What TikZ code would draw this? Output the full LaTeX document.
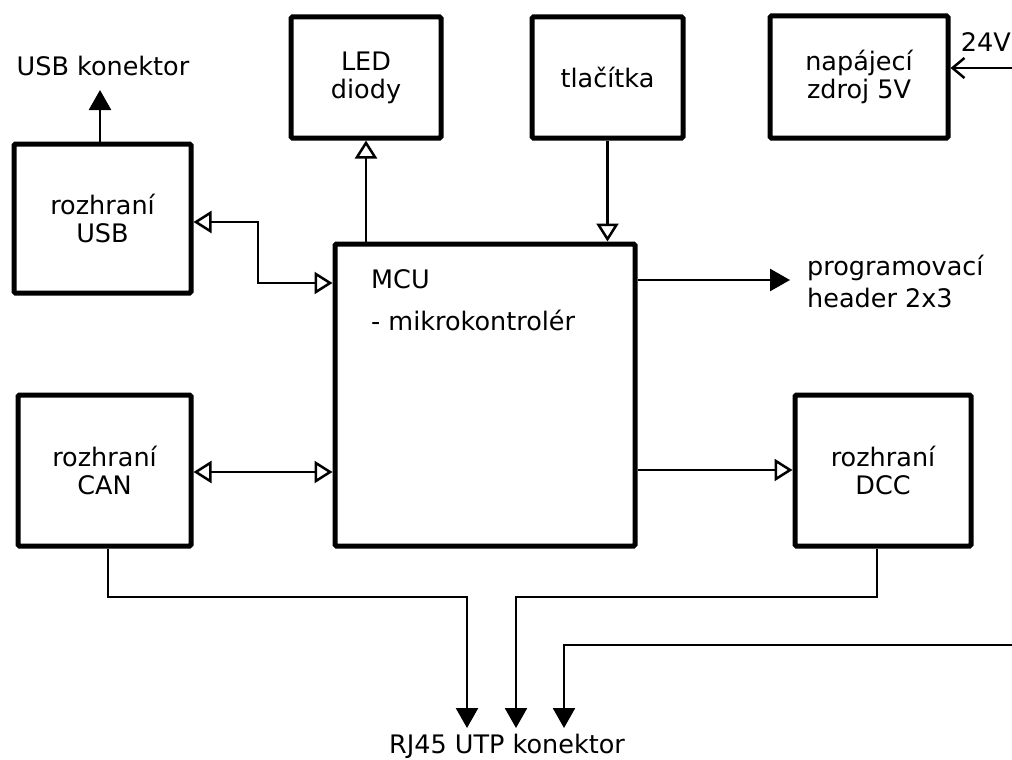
\documentclass[tikz,border=0pt]{standalone}
\usepackage{fontspec}
\setmainfont{DejaVu Sans}
\usetikzlibrary{arrows.meta}
\begin{document}
\begin{tikzpicture}[x=1pt,y=-1pt,
  box/.style={draw, line width=5pt, rounded corners=1.5pt, align=center, inner sep=0pt, font=\fontsize{25.5}{28}\selectfont},
  txt/.style={font=\fontsize{25.5}{28}\selectfont, inner sep=0pt},
  conn/.style={line width=2.5pt},
  farrow/.style={conn, -{Triangle[length=20pt,width=22pt]}},
  oarrow/.style={conn, -{Triangle[open,length=18pt,width=22pt]}},
  oboth/.style={conn, {Triangle[open,length=18pt,width=22pt]}-{Triangle[open,length=18pt,width=22pt]}},
  barb/.style={conn, -{Straight Barb[length=12pt,width=20pt]}}
]
\clip (0,0) rectangle (1012,760);
\useasboundingbox (0,0) rectangle (1012,760);

% boxes
\node[box, minimum width=150pt, minimum height=121pt] (led) at (366,77.5) {LED\\diody};
\node[box, minimum width=151pt, minimum height=121pt] (tl) at (607.5,77.5) {tlačítka};
\node[box, minimum width=178pt, minimum height=122pt] (nap) at (859,77) {napájecí\\zdroj 5V};
\node[box, minimum width=177pt, minimum height=149pt] (usb) at (102.5,218.5) {rozhraní\\USB};
\node[box, minimum width=300pt, minimum height=302pt] (mcu) at (485,395) {};
\node[box, minimum width=173pt, minimum height=151pt] (can) at (104.5,470.5) {rozhraní\\CAN};
\node[box, minimum width=176pt, minimum height=151pt] (dcc) at (883,470.5) {rozhraní\\DCC};

% texts
\node[txt, anchor=base west] (mcut1) at (371,288) {MCU};
\node[txt, anchor=base west] (mcut2) at (371,330) {- mikrokontrolér};
\node[txt] (usbk) at (103,66) {USB konektor};
\node[txt, anchor=base east] (v24) at (1011,52) {24V};
\node[txt, anchor=west, align=left, font=\fontsize{25.5}{32}\selectfont] (prog) at (807,281) {programovací\\header 2x3};
\node[txt] (rj) at (507,746) {RJ45 UTP konektor};

% free ends
\coordinate (usbtip) at (100,90);
\coordinate (progtip) at (790,280);
\coordinate (in24) at (1013,68);
\coordinate (rj1) at (467,728);
\coordinate (rj2) at (516,728);
\coordinate (rj3) at (564,728);
\coordinate (in3) at (1013,645);

% connectors
\draw[farrow] (usb.north -| usbtip) -- (usbtip);
\draw[oarrow] (mcu.north -| led.south) -- (led.south);
\draw[oarrow] (tl.south) -- (tl.south |- mcu.north);
\draw[oboth] (usb.east |- 0,222) -| (258,283) -- (mcu.west |- 0,283);
\draw[oboth] (can.east |- 0,472) -- (mcu.west |- 0,472);
\draw[farrow] (mcu.east |- progtip) -- (progtip);
\draw[oarrow] (mcu.east |- 0,470) -- (dcc.west |- 0,470);
\draw[barb] (in24) -- (nap.east |- in24);
\draw[farrow] (can.south -| 108,0) -- (108,597) -| (rj1);
\draw[farrow] (dcc.south -| 877,0) -- (877,597) -| (rj2);
\draw[farrow] (in3) -| (rj3);
\end{tikzpicture}
\end{document}
